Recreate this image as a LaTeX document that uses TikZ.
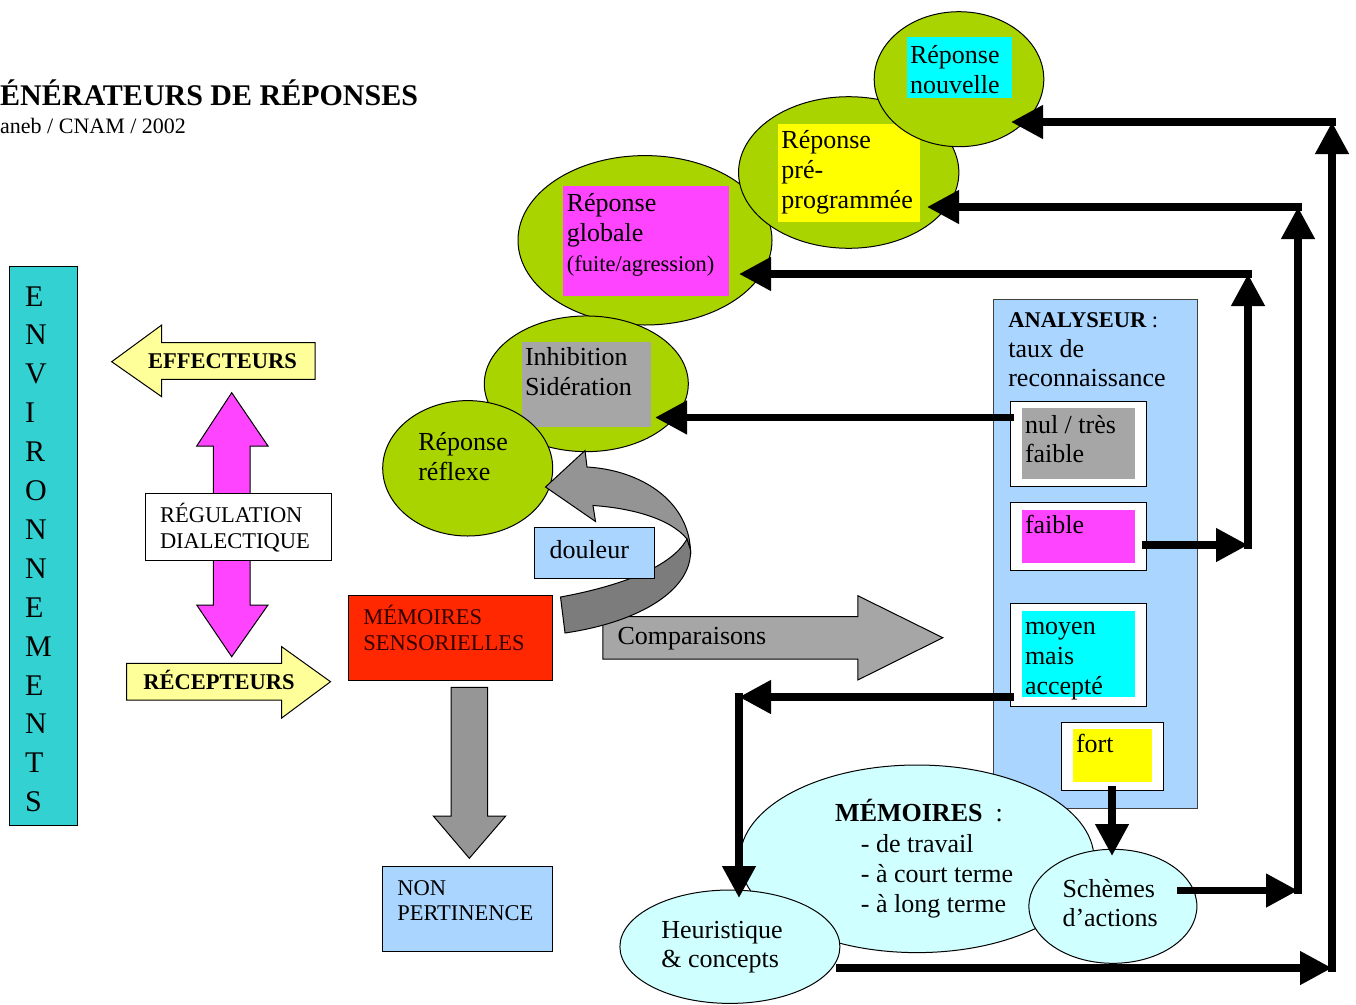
\documentclass[tikz,border=0pt]{standalone}
\usepackage{fontspec}
\setmainfont{Liberation Serif}
\usetikzlibrary{arrows.meta,shapes.geometric}
\definecolor{leaf}{RGB}{170,212,0}
\definecolor{envc}{RGB}{51,209,209}
\definecolor{pale}{RGB}{170,213,255}
\definecolor{memc}{RGB}{208,255,255}
\definecolor{mag}{RGB}{255,68,255}
\definecolor{lgray}{RGB}{166,166,166}
\definecolor{mgray}{RGB}{148,148,148}
\definecolor{ugray}{RGB}{150,150,150}
\definecolor{dgray}{RGB}{124,124,124}
\definecolor{sred}{RGB}{255,40,0}
\definecolor{cream}{RGB}{255,255,153}
\definecolor{cyanc}{RGB}{0,255,255}
\definecolor{yelc}{RGB}{255,255,0}
\definecolor{darkred}{RGB}{50,0,0}
\newcommand\mylines[6]{\foreach \myl [count=\myi from 0] in {#6}{\node[#2] (#1\myi) at (#3,#4+#5*\myi) {\myl};}}
\tikzset{
 txt/.style={anchor=base west, inner sep=0pt, outer sep=0pt, font=\fontsize{26}{30}\selectfont},
 txts/.style={anchor=base west, inner sep=0pt, outer sep=0pt, font=\fontsize{22.5}{27}\selectfont},
 txtb/.style={anchor=base west, inner sep=0pt, outer sep=0pt, font=\bfseries\fontsize{22.5}{27}\selectfont},
 envtxt/.style={anchor=base west, inner sep=0pt, outer sep=0pt, font=\fontsize{30}{36}\selectfont},
 ell/.style={ellipse, draw=black, line width=1pt, inner sep=0pt, outer sep=0pt},
 leafell/.style={ell, fill=leaf},
 memell/.style={ell, fill=memc},
 patch/.style={rectangle, anchor=north west, inner sep=0pt, outer sep=0pt, draw=none},
 frame/.style={rectangle, anchor=north west, inner sep=0pt, outer sep=0pt, draw=black, line width=1pt},
 block/.style={draw=black, line width=1pt, line join=miter},
 conn/.style={line width=7.5pt, line cap=rect, -{Triangle[length=32pt,width=32pt]}},
}
\begin{document}
\begin{tikzpicture}[x=1pt,y=-1pt]
\useasboundingbox (0,0) rectangle (1356,1004);
\clip (0,0) rectangle (1356,1004);

% title
\node[anchor=base west, inner sep=0pt, font=\bfseries\fontsize{30}{34}\selectfont] (title) at (0,105) {ÉNÉRATEURS DE RÉPONSES};
\node[anchor=base west, inner sep=0pt, font=\fontsize{22}{26}\selectfont] (sub) at (0,133) {aneb / CNAM / 2002};

% environnements
\node[frame, fill=envc, minimum width=68, minimum height=559] (env) at (9,266) {};
\mylines{envl}{envtxt}{25}{306}{38.9}{E,N,V,I,R,O,N,N,E,M,E,N,T,S}

% effecteurs / recepteurs
\draw[block, fill=cream] (111.7,361.7) -- (161.7,325) -- (161.7,342.7) -- (315,342.7) -- (315,379.3) -- (161.7,379.3) -- (161.7,396.7) -- cycle;
\node[txtb] (eff) at (148,368) {EFFECTEURS};
\draw[block, fill=cream] (126.7,663.3) -- (281.7,663.3) -- (281.7,646.7) -- (330.5,681.7) -- (281.7,718) -- (281.7,700) -- (126.7,700) -- cycle;
\node[txtb] (rec) at (143.3,689) {RÉCEPTEURS};

% regulation
\draw[block, fill=mag] (231.7,392.7) -- (268,446) -- (250,446) -- (250,605) -- (268,605) -- (231.7,656.7) -- (196.7,605) -- (213.3,605) -- (213.3,446) -- (196.7,446) -- cycle;
\node[frame, fill=white, minimum width=186.7, minimum height=67.4] (reg) at (145,493.3) {};
\mylines{regl}{txts}{160}{522}{26.7}{RÉGULATION,DIALECTIQUE}

% memoires sensorielles
\node[frame, fill=sred, minimum width=204, minimum height=85] (ms) at (348.3,595) {};
\mylines{msl}{txts, text=darkred}{363.3}{624}{26}{MÉMOIRES,SENSORIELLES}
\draw[block, fill=ugray] (451,687.3) -- (487.7,687.3) -- (487.7,816) -- (505.7,816) -- (469.3,858.3) -- (433.3,816) -- (451,816) -- cycle;
\node[frame, fill=pale, minimum width=170, minimum height=85.7] (np) at (382.3,866) {};
\mylines{npl}{txts}{397.3}{895}{25.7}{NON,PERTINENCE}

% comparaisons
\draw[block, fill=lgray] (602.8,616.7) -- (857.8,616.7) -- (857.8,595.7) -- (942.8,637.7) -- (857.8,680) -- (857.8,659) -- (602.8,659) -- cycle;
\node[txt] (comp) at (617.5,644) {Comparaisons};

% green response ellipses
\node[leafell, minimum width=254, minimum height=169.4] (glob) at (645,240.3) {};
\node[patch, fill=mag, minimum width=165.4, minimum height=109.7] (globp) at (563.2,186) {};
\mylines{globl}{txt}{566.8}{211}{30}{Réponse,globale}
\node[txts] (globf) at (566.8,271) {(fuite/agression)};

\node[leafell, minimum width=220.3, minimum height=151.6] (pre) at (848.7,172.5) {};
\node[patch, fill=yelc, minimum width=141.7, minimum height=97.7] (prep) at (777.9,124) {};
\mylines{prel}{txt}{781.4}{148.5}{30}{Réponse,pré-,programmée}

\node[leafell, minimum width=169.6, minimum height=135] (nouv) at (959,79.2) {};
\node[patch, fill=cyanc, minimum width=104.7, minimum height=60.4] (nouvp) at (907.1,37.3) {};
\mylines{nouvl}{txt}{910}{63}{30}{Réponse,nouvelle}

\node[leafell, minimum width=204, minimum height=135.7] (inh) at (586.3,383.8) {};
\node[patch, fill=lgray, minimum width=129.3, minimum height=85] (inhp) at (521.7,341.7) {};
\mylines{inhl}{txt}{525}{365.5}{30}{Inhibition,Sidération}

\node[leafell, minimum width=170, minimum height=135.4] (refl) at (467.7,468.3) {};
\mylines{refll}{txt}{418.3}{450}{30}{Réponse,réflexe}

% curved arrow
\draw[block, fill=mgray] (545.5,487) -- (585,450.5) -- (587,467) .. controls (640,470) and (688,500) .. (690.5,550) -- (687,539) .. controls (670,518) and (630,508) .. (593,505.5) -- (595.5,521.5) -- cycle;
\draw[block, fill=dgray] (690.5,550) .. controls (692,590) and (640,622) .. (565,633) -- (560.5,597) .. controls (610,588) and (670,570) .. (687,539) -- cycle;
\node[frame, fill=pale, minimum width=119.3, minimum height=50.6] (dou) at (534.9,527.7) {};
\node[txt] (doul) at (549.5,558.8) {douleur};

% analyseur
\node[frame, draw=black!75, fill=pale, minimum width=204, minimum height=509] (ana) at (993,299) {};
\node[txtb] (anal0) at (1008.3,327.3) {ANALYSEUR\mdseries{} :};
\mylines{anal}{txt}{1008.3}{357.3}{29.4}{taux de,reconnaissance}

\node[frame, fill=white, minimum width=136, minimum height=85] (nul) at (1010,401) {};
\node[patch, fill=lgray, minimum width=113, minimum height=71] (nulp) at (1022,407.5) {};
\mylines{null}{txt}{1025}{433.3}{29.4}{nul / très,faible}

\node[frame, fill=white, minimum width=136, minimum height=68] (fbox) at (1010,502) {};
\node[patch, fill=mag, minimum width=113, minimum height=53] (fboxp) at (1022,510) {};
\node[txt] (fboxl) at (1025,533.3) {faible};

\node[frame, fill=white, minimum width=136, minimum height=103] (moy) at (1010,603) {};
\node[patch, fill=cyanc, minimum width=113, minimum height=86] (moyp) at (1022,611) {};
\mylines{moyl}{txt}{1025}{634.3}{30}{moyen,mais,accepté}

\node[frame, fill=white, minimum width=102, minimum height=68] (fort) at (1061,722) {};
\node[patch, fill=yelc, minimum width=79, minimum height=53] (fortp) at (1073,729) {};
\node[txt] (fortl) at (1076,752.7) {fort};

% memoires
\node[memell, minimum width=354, minimum height=187.6] (mem) at (917,858.8) {};
\node[txt] (mem0) at (835.2,821.7) {\textbf{MÉMOIRES}\hspace{13pt}:};
\mylines{meml}{txt}{860.9}{852.5}{30}{- de travail,- à court terme,- à long terme}

\node[memell, minimum width=220, minimum height=113.4] (heur) at (729.9,946.7) {};
\mylines{heurl}{txt}{661.3}{938}{29}{Heuristique,\& concepts}

\node[memell, minimum width=168, minimum height=114] (sch) at (1112.9,906.3) {};
\mylines{schl}{txt}{1062.5}{897.3}{29.4}{Schèmes,d’actions}

% connectors
\coordinate (inhTip) at (655,417.5);
\draw[conn] (nul.west |- inhTip) -- (inhTip);

\coordinate (fb) at (1248,545);
\coordinate (ft) at (1248,274);
\coordinate (globTip) at (739,274);
\draw[conn] (fbox.east |- fb) -- (fb);
\draw[conn] (fb) -- (ft);
\draw[conn] (ft) -- (globTip);

\coordinate (sOut) at (1181,890.5);
\coordinate (sb) at (1298,890.5);
\coordinate (st) at (1298,207);
\coordinate (preTip) at (927,207);
\draw[conn] (sOut) -- (sb);
\draw[conn] (sb) -- (st);
\draw[conn] (st) -- (preTip);

\coordinate (hb) at (1332,968);
\coordinate (ht) at (1332,122);
\coordinate (nouvTip) at (1011,122);
\draw[conn] (heur.east |- hb) -- (hb);
\draw[conn] (hb) -- (ht);
\draw[conn] (ht) -- (nouvTip);

\coordinate (mTurn) at (739,697);
\coordinate (heurTip) at (739,898);
\draw[conn] (moy.west |- mTurn) -- (mTurn);
\draw[conn] (mTurn) -- (heurTip);

\coordinate (fortTip) at (1112,856);
\draw[conn] (fort.south) -- (fortTip);
\end{tikzpicture}
\end{document}
